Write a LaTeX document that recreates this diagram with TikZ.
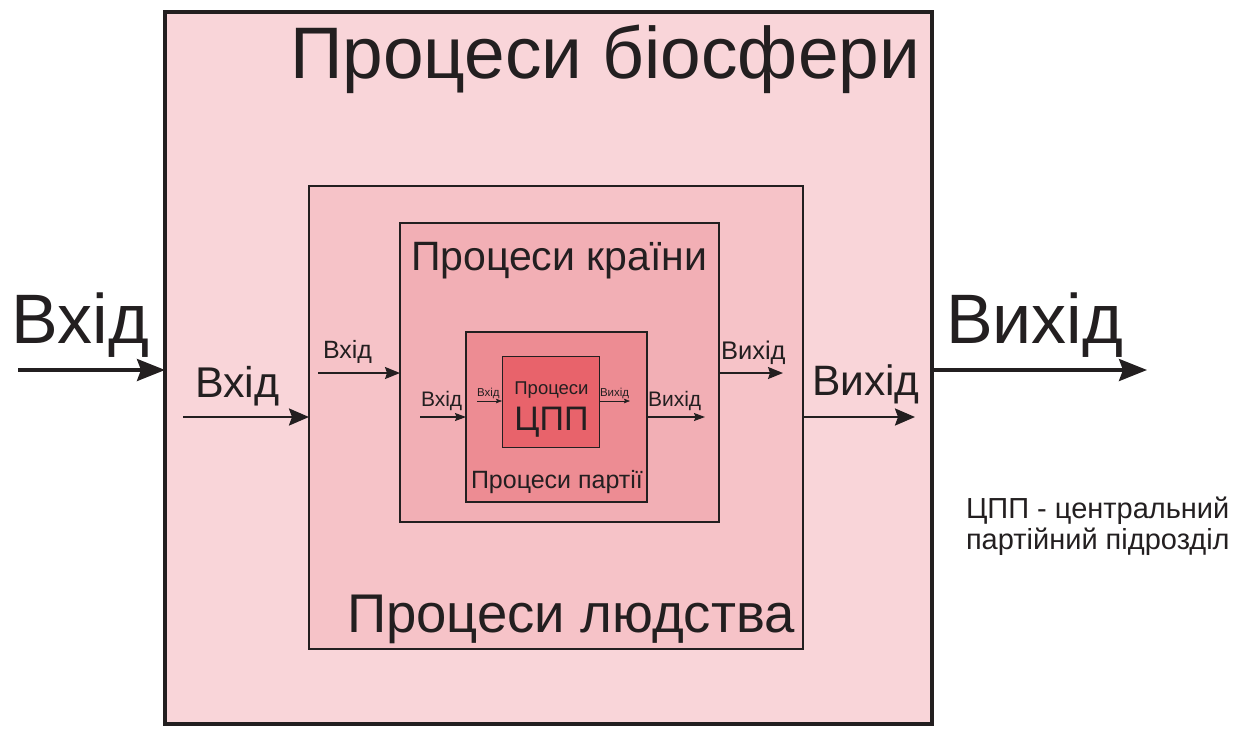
\documentclass[tikz,border=0pt]{standalone}
\usepackage{fontspec}
\setmainfont{Liberation Sans}
\usetikzlibrary{arrows.meta}
\definecolor{ink}{HTML}{231F20}
\definecolor{cbio}{HTML}{F9D5D9}
\definecolor{cman}{HTML}{F6C3C8}
\definecolor{ccty}{HTML}{F2AFB5}
\definecolor{cpty}{HTML}{ED8C93}
\definecolor{ccpp}{HTML}{E8636B}
\newcommand{\fsz}[1]{\fontsize{#1}{#1}\selectfont}
\tikzset{
  box/.style={draw=ink, anchor=north west, inner sep=0pt, outer sep=0pt},
  lbl/.style={text=ink, inner sep=0pt, outer sep=0pt, anchor=base west},
  arrA/.style={draw=ink, line width=3.5pt, -{Stealth[length=28pt,width=22pt,inset=4pt]}},
  arrB/.style={draw=ink, line width=2.5pt, -{Stealth[length=20pt,width=17pt,inset=3pt]}},
  arrC/.style={draw=ink, line width=1.6pt, -{Stealth[length=15pt,width=12pt,inset=2pt]}},
  arrD/.style={draw=ink, line width=1.1pt, -{Stealth[length=11pt,width=8pt,inset=1.5pt]}},
  arrE/.style={draw=ink, line width=0.6pt, -{Stealth[length=6pt,width=4.5pt,inset=1pt]}},
}
\begin{document}
\begin{tikzpicture}[x=1pt,y=-1pt]
\useasboundingbox (0,0) rectangle (1256,729);
% boxes
\node[box, fill=cbio, line width=3.5pt, minimum width=767pt, minimum height=712pt] (bio) at (165,12) {};
\node[box, fill=cman, line width=2.6pt, minimum width=494pt, minimum height=463pt] (man) at (309,186) {};
\node[box, fill=ccty, line width=2pt, minimum width=319pt, minimum height=299pt] (cty) at (400,223) {};
\node[box, fill=cpty, line width=1.5pt, minimum width=181pt, minimum height=170pt] (pty) at (466,332) {};
\node[box, fill=ccpp, line width=1pt, minimum width=97pt, minimum height=91pt] (cpp) at (502,356) {};
% titles
\node[lbl, anchor=base east] (tbio) at (920,78) {\fsz{73}Процеси біосфери};
\node[lbl] (tman) at (347,632) {\fsz{54.5}Процеси людства};
\node[lbl] (tcty) at (411,270) {\fsz{41}Процеси країни};
\node[lbl] (tpty) at (471,488) {\fsz{25}Процеси партії};
\node[lbl, anchor=base] (tcpp1) at (551.5,394) {\fsz{18.5}Процеси};
\node[lbl, anchor=base] (tcpp2) at (551.5,430) {\fsz{34}ЦПП};
% inputs
\coordinate (i1) at (18,370);
\coordinate (i2) at (183,417);
\coordinate (i3) at (318,373);
\coordinate (i4) at (420,417);
\coordinate (i5) at (477,401);
\draw[arrA] (i1) -- (i1 -| bio.west);
\draw[arrB] (i2) -- (i2 -| man.west);
\draw[arrC] (i3) -- (i3 -| cty.west);
\draw[arrD] (i4) -- (i4 -| pty.west);
\draw[arrE] (i5) -- (i5 -| cpp.west);
\node[lbl] (li1) at (12,343) {\fsz{70}Вхід};
\node[lbl] (li2) at (195,397) {\fsz{43}Вхід};
\node[lbl] (li3) at (323,358) {\fsz{25}Вхід};
\node[lbl] (li4) at (421,406) {\fsz{21}Вхід};
\node[lbl] (li5) at (477,396) {\fsz{11.5}Вхід};
% outputs
\coordinate (o1) at (1147,370);
\coordinate (o2) at (915,417);
\coordinate (o3) at (783,373);
\coordinate (o4) at (705,417);
\coordinate (o5) at (630,401);
\draw[arrA] (o1 -| bio.east) -- (o1);
\draw[arrB] (o2 -| man.east) -- (o2);
\draw[arrC] (o3 -| cty.east) -- (o3);
\draw[arrD] (o4 -| pty.east) -- (o4);
\draw[arrE] (o5 -| cpp.east) -- (o5);
\node[lbl] (lo1) at (946,343) {\fsz{70}Вихід};
\node[lbl] (lo2) at (812,395) {\fsz{42.5}Вихід};
\node[lbl] (lo3) at (721,359) {\fsz{25.5}Вихід};
\node[lbl] (lo4) at (648,406) {\fsz{21}Вихід};
\node[lbl] (lo5) at (600,396) {\fsz{11.5}Вихід};
% note
\node[lbl] (note1) at (966,518) {\fsz{29}ЦПП - центральний};
\node[lbl] (note2) at (966,549) {\fsz{29}партійний підрозділ};
\end{tikzpicture}
\end{document}
